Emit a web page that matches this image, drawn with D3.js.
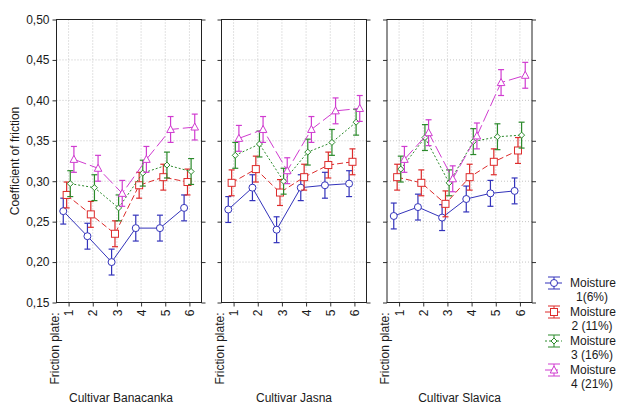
<!DOCTYPE html>
<html>
<head>
<meta charset="utf-8">
<script src="https://cdn.jsdelivr.net/npm/d3@7"></script>
<style>
  body { margin: 0; background: #fff; }
  text { font-family: "Liberation Sans", Arial, sans-serif; fill: #1a1a1a; }
</style>
</head>
<body>
<svg id="chart" width="619" height="405"></svg>
<script>
// data
var cultivars = ["Cultivar Banacanka", "Cultivar Jasna", "Cultivar Slavica"];
var plates = [1, 2, 3, 4, 5, 6];
var yTicks = [0.15, 0.20, 0.25, 0.30, 0.35, 0.40, 0.45, 0.50];
var moisture = [["Moisture", "1(6%)"], ["Moisture", "2 (11%)"], ["Moisture", "3 (16%)"], ["Moisture", "4 (21%)"]];

// rows = moisture 1..4, columns = friction plate 1..6
var banacanka = [
  [0.263, 0.232, 0.200, 0.242, 0.242, 0.267],
  [0.283, 0.259, 0.235, 0.295, 0.305, 0.299],
  [0.297, 0.292, 0.267, 0.310, 0.320, 0.312],
  [0.327, 0.316, 0.285, 0.327, 0.364, 0.367]
];
var jasna = [
  [0.265, 0.292, 0.240, 0.292, 0.295, 0.297],
  [0.298, 0.315, 0.286, 0.305, 0.320, 0.324],
  [0.332, 0.346, 0.300, 0.336, 0.348, 0.373],
  [0.353, 0.364, 0.313, 0.364, 0.387, 0.390]
];
var slavica = [
  [0.257, 0.268, 0.255, 0.278, 0.285, 0.288],
  [0.305, 0.298, 0.272, 0.305, 0.324, 0.338],
  [0.315, 0.354, 0.298, 0.349, 0.355, 0.357],
  [0.327, 0.360, 0.303, 0.356, 0.422, 0.431]
];
var errHalf = 0.016;

var panelData = [banacanka, jasna, slavica];

// styling
var colors = ["#3333bb", "#dd2b2b", "#2b8a2b", "#d03cd0"];
var dashes = [null, "6,3", "2,2", "13,4"];
var offsets = [-0.22, -0.08, 0.07, 0.22];
var shapes = ["circle", "square", "diamond", "triangle"];

var panelTop = 19.5, ph = 283, pw = 145;
var lefts = [56.5, 221.5, 387];
var labelShift = [-8, 0, 0];

var svg = d3.select("#chart");
var fmt = function(d) { return d3.format(".2f")(d).replace(".", ","); };

function marker(sel, shape, color) {
  if (shape == "circle") {
    sel.append("circle").attr("r", 3.5);
  } else if (shape == "square") {
    sel.append("rect").attr("x", -3.5).attr("y", -3.5).attr("width", 7).attr("height", 7);
  } else if (shape == "diamond") {
    sel.append("path").attr("d", "M0,-3 L3,0 L0,3 L-3,0Z");
  } else {
    sel.append("path").attr("d", "M0,-4 L3.8,3 L-3.8,3Z");
  }
  sel.selectAll("*").attr("fill", "#fff").attr("stroke", color).attr("stroke-width", 1);
}

panelData.forEach(function(series, p) {
  var g = svg.append("g").attr("transform", "translate(" + lefts[p] + "," + panelTop + ")");
  var x = d3.scaleLinear().domain([0.5, 6.5]).range([0, pw]);
  var y = d3.scaleLinear().domain([0.15, 0.5]).range([ph, 0]);

  // grid
  g.selectAll(".vg").data(plates).enter().append("line")
    .attr("x1", d => x(d)).attr("x2", d => x(d)).attr("y1", 0).attr("y2", ph)
    .attr("stroke", "#c4c4c4").attr("stroke-dasharray", "1,2");
  g.selectAll(".hg").data(yTicks.slice(1, -1)).enter().append("line")
    .attr("x1", 0).attr("x2", pw).attr("y1", d => y(d)).attr("y2", d => y(d))
    .attr("stroke", "#c4c4c4").attr("stroke-dasharray", "1,2");

  // axes
  var yAxis = d3.axisLeft(y).tickValues(yTicks).tickSize(4).tickPadding(3)
    .tickFormat(p == 0 ? fmt : "");
  var ya = g.append("g").call(yAxis);
  ya.selectAll("text").style("font-size", "12px").attr("fill", "#1a1a1a");
  g.append("g").attr("transform", "translate(" + pw + ",0)")
    .call(d3.axisRight(y).tickValues(yTicks).tickSize(4).tickFormat(""));
  var xa = g.append("g").attr("transform", "translate(0," + ph + ")")
    .call(d3.axisBottom(x).tickValues(plates).tickSize(4).tickFormat(d3.format("d")));
  xa.selectAll("text")
    .style("font-size", "12px").attr("fill", "#1a1a1a")
    .attr("transform", "rotate(-90)")
    .attr("x", -7).attr("y", 0).attr("dy", "0.35em")
    .style("text-anchor", "end");
  g.selectAll(".domain").remove();
  g.selectAll(".tick line").attr("stroke", "#333");

  // border
  g.append("rect").attr("width", pw).attr("height", ph)
    .attr("fill", "none").attr("stroke", "#222").attr("stroke-width", 1);

  // series
  series.forEach(function(vals, s) {
    var pts = vals.map((v, i) => ({ px: plates[i] + offsets[s], v: v }));
    var line = d3.line().x(d => x(d.px)).y(d => y(d.v));
    g.append("path").datum(pts).attr("d", line)
      .attr("fill", "none").attr("stroke", colors[s]).attr("stroke-width", 1)
      .attr("stroke-dasharray", dashes[s]);

    var eb = g.append("g").attr("stroke", colors[s]).attr("stroke-width", 1.2);
    eb.selectAll(".v").data(pts).enter().append("line")
      .attr("x1", d => x(d.px)).attr("x2", d => x(d.px))
      .attr("y1", d => y(d.v - errHalf)).attr("y2", d => y(d.v + errHalf));
    eb.selectAll(".t").data(pts).enter().append("line")
      .attr("x1", d => x(d.px) - 3).attr("x2", d => x(d.px) + 3)
      .attr("y1", d => y(d.v + errHalf)).attr("y2", d => y(d.v + errHalf));
    eb.selectAll(".b").data(pts).enter().append("line")
      .attr("x1", d => x(d.px) - 3).attr("x2", d => x(d.px) + 3)
      .attr("y1", d => y(d.v - errHalf)).attr("y2", d => y(d.v - errHalf));

    pts.forEach(function(d) {
      var m = g.append("g").attr("transform", "translate(" + x(d.px) + "," + y(d.v) + ")");
      marker(m, shapes[s], colors[s]);
    });
  });

  // labels
  g.append("text")
    .attr("transform", "translate(2," + (ph + 10) + ") rotate(-90)")
    .style("text-anchor", "end").style("font-size", "12px")
    .text("Friction plate:");
  g.append("text")
    .attr("x", pw / 2 + labelShift[p]).attr("y", 382)
    .style("text-anchor", "middle").style("font-size", "12px")
    .text(cultivars[p]);
});

// y title
svg.append("text")
  .attr("transform", "translate(19," + (panelTop + ph / 2) + ") rotate(-90)")
  .style("text-anchor", "middle").style("font-size", "12px")
  .text("Coefficient of friction");

// legend
var lg = svg.append("g").attr("transform", "translate(554,283)");
moisture.forEach(function(lbl, s) {
  var row = lg.append("g").attr("transform", "translate(0," + (s * 29) + ")");
  row.append("line").attr("x1", -9).attr("x2", 8).attr("y1", 0).attr("y2", 0)
    .attr("stroke", colors[s]).attr("stroke-dasharray", dashes[s]);
  row.append("line").attr("x1", 0).attr("x2", 0).attr("y1", -6).attr("y2", 6).attr("stroke", colors[s]);
  row.append("line").attr("x1", -6).attr("x2", 6).attr("y1", -6).attr("y2", -6).attr("stroke", colors[s]);
  row.append("line").attr("x1", -6).attr("x2", 6).attr("y1", 6).attr("y2", 6).attr("stroke", colors[s]);
  var m = row.append("g");
  marker(m, shapes[s], colors[s]);
  row.append("text").attr("x", 39).attr("y", 4).style("text-anchor", "middle")
    .style("font-size", "12px").text(lbl[0]);
  row.append("text").attr("x", 38).attr("y", 18).style("text-anchor", "middle")
    .style("font-size", "12px").text(lbl[1]);
});
</script>
</body>
</html>
